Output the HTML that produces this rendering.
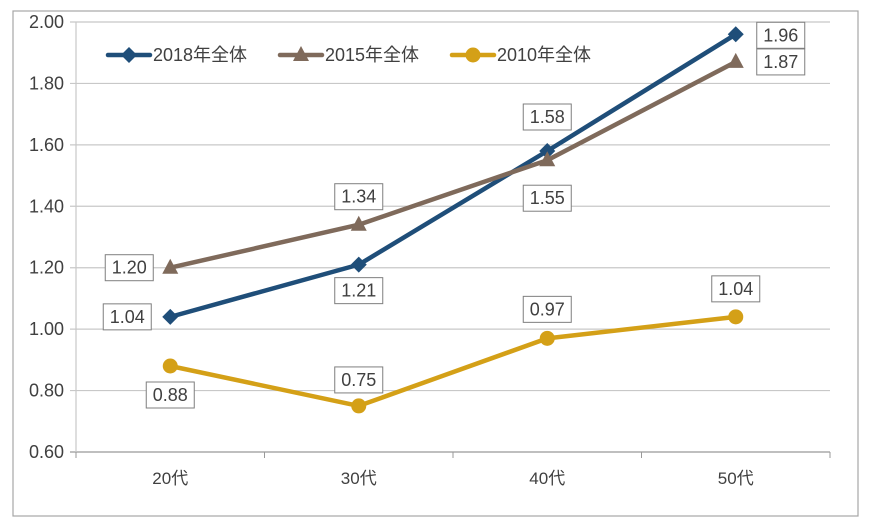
<!DOCTYPE html>
<html><head><meta charset="utf-8"><style>
body{margin:0;background:#fff;}
svg text{font-family:"Liberation Sans","Noto Sans CJK JP",sans-serif;fill:#404040;}
</style></head><body>
<svg id="chart" width="870" height="526">
<rect x="13" y="11" width="845" height="505" fill="#fff" stroke="#a6a6a6" stroke-width="1.2"/>
<g id="grid"></g><g id="series"></g><g id="labels"></g>
</svg>
<script>
const categories=["20代","30代","40代","50代"];
const yTicks=[0.6,0.8,1.0,1.2,1.4,1.6,1.8,2.0];
const seriesNames=["2018年全体","2015年全体","2010年全体"];
const s2018=[1.04,1.21,1.58,1.96];
const s2015=[1.20,1.34,1.55,1.87];
const s2010=[0.88,0.75,0.97,1.04];
const colors=["#1f4e79","#7f6a5b","#d4a017"];
const ns="http://www.w3.org/2000/svg";
const L=76,R=830,T=22,B=452;
const y=v=>B-(v-0.6)/(2.0-0.6)*(B-T);
const bw=(R-L)/categories.length;
const x=i=>L+bw*(i+0.5);
function mk(tag,attrs,parent){const e=document.createElementNS(ns,tag);for(const k in attrs)e.setAttribute(k,attrs[k]);parent.appendChild(e);return e;}
const grid=document.getElementById('grid'),ser=document.getElementById('series'),lab=document.getElementById('labels');
yTicks.forEach(v=>{
  const ln=mk('line',{x1:70,x2:R,y1:y(v),y2:y(v),stroke:v===0.6?'#999':'#c8c8c8','stroke-width':1.2},grid);
  
  
  const t=mk('text',{x:64,y:y(v)+6,'text-anchor':'end','font-size':18},grid);
  t.textContent=v.toFixed(2);
  
  
});
mk('line',{x1:L,x2:L,y1:T,y2:B,stroke:'#c8c8c8','stroke-width':1.2},grid);
for(let i=0;i<=categories.length;i++){mk('line',{x1:L+bw*i,x2:L+bw*i,y1:B,y2:B+6,stroke:'#999'},grid);}
categories.forEach((c,i)=>{
  const t=mk('text',{x:x(i),y:484,'text-anchor':'middle','font-size':17},grid);
  t.textContent=c;
  
  
});
function marker(kind,cx,cy,col,g){
  if(kind===0)return mk('polygon',{points:`${cx},${cy-8} ${cx+8},${cy} ${cx},${cy+8} ${cx-8},${cy}`,fill:col},g);
  if(kind===1)return mk('polygon',{points:`${cx},${cy-9} ${cx+8},${cy+6} ${cx-8},${cy+6}`,fill:col},g);
  return mk('circle',{cx:cx,cy:cy,r:7.5,fill:col},g);
}
const all=[s2018,s2015,s2010];
all.forEach((d,si)=>{
  const pl=mk('polyline',{points:d.map((v,i)=>x(i)+','+y(v)).join(' '),fill:'none',stroke:colors[si],'stroke-width':4.5,'stroke-linejoin':'round'},ser);
  
  
  d.forEach((v,i)=>{const m=marker(si,x(i),y(v),colors[si],ser);
    
    });
});
const off=[[[-43,0],[0,26],[0,-34],[45,1]],[[-41,0],[0,-28],[0,38],[45,0]],[[0,29],[0,-26],[0,-29],[0,-28]]];
all.forEach((d,si)=>d.forEach((v,i)=>{
  const cx=x(i)+off[si][i][0],cy=y(v)+off[si][i][1];
  const r=mk('rect',{x:cx-24,y:cy-13,width:48,height:26,fill:'#fff',stroke:'#7f7f7f','stroke-width':1},lab);
  
  
  const t=mk('text',{x:cx,y:cy+6,'text-anchor':'middle','font-size':18},lab);
  t.textContent=v.toFixed(2);
  
  
}));
const lx=[108,280,452];
seriesNames.forEach((n,si)=>{
  const g=mk('g',{},lab);
  
  
  mk('line',{x1:lx[si],x2:lx[si]+42,y1:55,y2:55,stroke:colors[si],'stroke-width':4.5,'stroke-linecap':'round'},g);
  marker(si,lx[si]+21,55,colors[si],g);
  const t=mk('text',{x:lx[si]+45,y:61,'font-size':18},g);
  t.textContent=n;
});
</script>
</body></html>
